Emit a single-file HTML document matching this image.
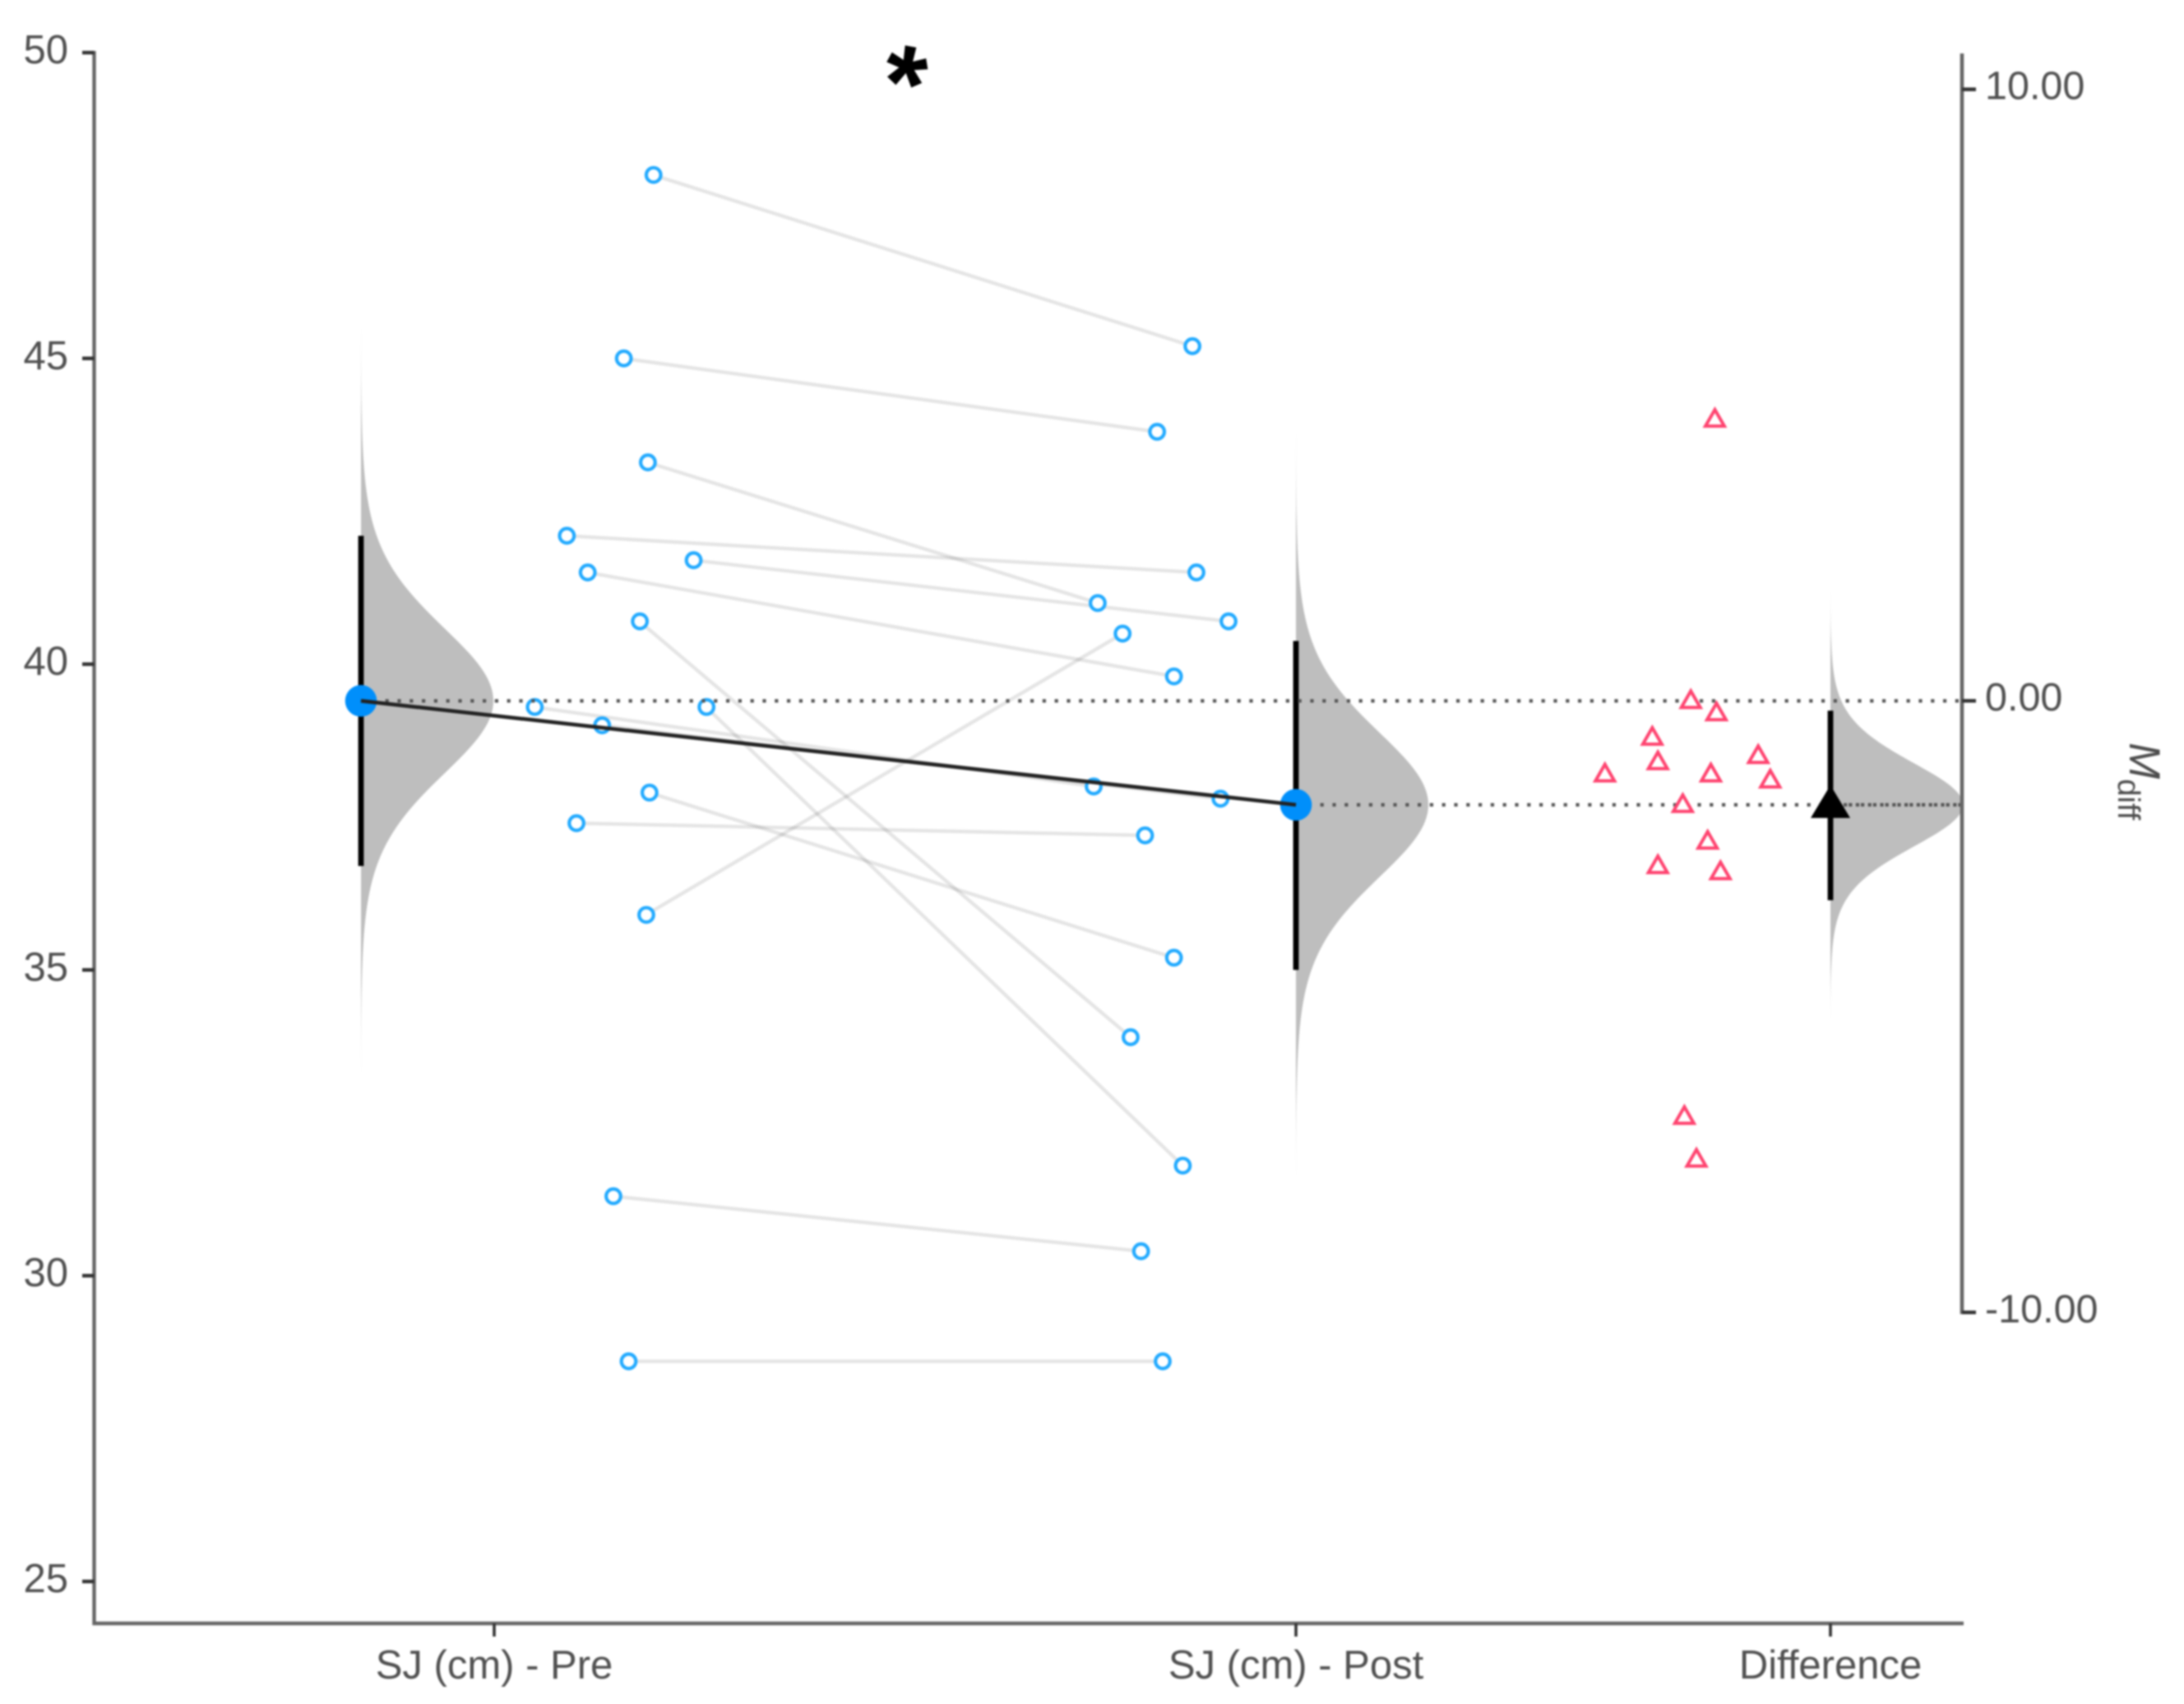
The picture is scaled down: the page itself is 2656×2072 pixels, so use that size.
<!DOCTYPE html>
<html lang="en">
<head>
<meta charset="utf-8">
<title>SJ (cm) Pre vs Post paired estimation plot</title>
<style>
  html, body { margin: 0; padding: 0; background: #fff; }
  body { width: 2656px; height: 2072px; overflow: hidden; }
  svg { display: block; filter: blur(1.1px); }
  text { font-family: "Liberation Sans", Arial, sans-serif; }
</style>
</head>
<body>
<svg id="chart" xmlns="http://www.w3.org/2000/svg" width="2656" height="2072" viewBox="0 0 2656 2072">
  <defs id="defs"></defs>
  <rect x="0" y="0" width="2656" height="2072" fill="#ffffff"></rect>
  <g id="densities"></g>
  <g id="pairs"></g>
  <g id="points"></g>
  <g id="intervals"></g>
  <g id="guides"></g>
  <g id="diffs"></g>
  <g id="means"></g>
  <g id="axes"></g>
  <text transform="translate(1104,147) rotate(10 0 -72)" text-anchor="middle" font-size="132" font-weight="700" fill="#000000">*</text>
  <text transform="translate(2590,903) rotate(90)" fill="#4d4d4d"><tspan font-size="53" font-style="italic">M</tspan><tspan font-size="38" dy="14">diff</tspan></text>
</svg>
<script>
// ---- data ----
const categories = ["SJ (cm) - Pre", "SJ (cm) - Post", "Difference"];
const categoryPositions = [0, 0.999, 1.665];
const leftTicks = [25, 30, 35, 40, 45, 50];
const rightTicks = [10, 0, -10];
const rightTickLabels = ["10.00", "0.00", "-10.00"];

const preValues = [48.0, 45.0, 43.3, 42.1, 41.7, 41.5, 40.7, 39.3, 39.3, 39.0, 37.9, 37.4, 35.9, 31.3, 28.6];
const postValues = [45.2, 43.8, 41.0, 41.5, 40.7, 39.8, 33.9, 31.8, 38.0, 37.8, 35.2, 37.2, 40.5, 30.4, 28.6];
const diffValues = [-2.8, -1.2, -2.3, -0.6, -1.0, -1.7, -6.8, -7.5, -1.3, -1.2, -2.7, -0.2, 4.6, -0.9, 0.0];

// horizontal swarm location of each subject, in category-axis units
const preSwarm = [0.198, 0.161, 0.191, 0.090, 0.248, 0.116, 0.181, 0.264, 0.050, 0.134, 0.193, 0.102, 0.189, 0.148, 0.167];
const postSwarm = [0.870, 0.826, 0.752, 0.875, 0.915, 0.847, 0.793, 0.858, 0.747, 0.905, 0.847, 0.811, 0.783, 0.806, 0.833];
const diffSwarm = [1.528, 1.384, 1.512, 1.443, 1.450, 1.481, 1.483, 1.498, 1.590, 1.516, 1.450, 1.523, 1.521, 1.575, 1.491];

const groupMeans = [39.4, 37.7];
const groupCiLow = [36.7, 35.0];
const groupCiHigh = [42.1, 40.38];
const meanDiff = -1.7;
const diffCiLow = -3.26;
const diffCiHigh = -0.16;

// ---- axis functions ----
const Y_TOP = 64, PX_PER_UNIT = 74.36, Y_TOP_VALUE = 50;
const AXIS_LEFT = 114.5, AXIS_RIGHT = 2386, AXIS_BOTTOM = 1974;
const X0 = 601, PX_PER_CAT = 976;
const HALF_EYE_SHIFT = -162;
const DENSITY_WIDTH = 161;
const T_CRIT_14 = 2.145;
const TAIL_END = 5.1, FADE_START = 3.7;

function yScale(v) { return Y_TOP + (Y_TOP_VALUE - v) * PX_PER_UNIT; }
function xScale(u) { return X0 + u * PX_PER_CAT; }
function yDiffScale(d) { return yScale(groupMeans[0] + d); }

const NS = "http://www.w3.org/2000/svg";
function mk(parentId, tag, attrs) {
  const el = document.createElementNS(NS, tag);
  for (const k in attrs) el.setAttribute(k, attrs[k]);
  document.getElementById(parentId).appendChild(el);
  return el;
}

// Student-t (df = 14) shape scaled to the fixed half-eye width
function densityPath(x0, yFn, mean, lo, hi) {
  const se = (hi - lo) / 2 / T_CRIT_14;
  const pts = [];
  for (let t = -TAIL_END; t <= TAIL_END + 0.001; t += 0.04) {
    const w = DENSITY_WIDTH * Math.pow(1 + t * t / 14, -7.5);
    pts.push((x0 + w).toFixed(2) + "," + yFn(mean + t * se).toFixed(2));
  }
  return "M" + x0 + "," + yFn(mean - TAIL_END * se).toFixed(2) + "L" + pts.join("L") + "L" + x0 + "," + yFn(mean + TAIL_END * se).toFixed(2) + "Z";
}

// vertical gradient that fades the density tails out
function densityFill(id, yFn, mean, lo, hi) {
  const se = (hi - lo) / 2 / T_CRIT_14;
  const y1 = yFn(mean + TAIL_END * se), y2 = yFn(mean - TAIL_END * se);
  const g = mk("defs", "linearGradient", { id: id, gradientUnits: "userSpaceOnUse", x1: 0, x2: 0, y1: y1, y2: y2 });
  const a = (TAIL_END - FADE_START) / (2 * TAIL_END);
  [[0, 0], [a, 1], [1 - a, 1], [1, 0]].forEach(function (s) {
    const stop = document.createElementNS(NS, "stop");
    stop.setAttribute("offset", s[0]);
    stop.setAttribute("stop-color", "#bebebe");
    stop.setAttribute("stop-opacity", s[1]);
    g.appendChild(stop);
  });
  return "url(#" + id + ")";
}

// ---- densities ----
const preCenter = xScale(categoryPositions[0]) + HALF_EYE_SHIFT;
const postCenter = xScale(categoryPositions[1]);
const diffCenter = xScale(categoryPositions[2]);

let el = mk("densities", "path", { d: densityPath(preCenter, yScale, groupMeans[0], groupCiLow[0], groupCiHigh[0]), fill: densityFill("fade-pre", yScale, groupMeans[0], groupCiLow[0], groupCiHigh[0]) });


el = mk("densities", "path", { d: densityPath(postCenter, yScale, groupMeans[1], groupCiLow[1], groupCiHigh[1]), fill: densityFill("fade-post", yScale, groupMeans[1], groupCiLow[1], groupCiHigh[1]) });


el = mk("densities", "path", { d: densityPath(diffCenter, yDiffScale, meanDiff, diffCiLow, diffCiHigh), fill: densityFill("fade-diff", yDiffScale, meanDiff, diffCiLow, diffCiHigh) });



// ---- paired lines and points ----
preValues.forEach(function (v, i) {
  const line = mk("pairs", "line", {
    x1: xScale(preSwarm[i]), y1: yScale(v),
    x2: xScale(postSwarm[i]), y2: yScale(postValues[i]),
    stroke: "#000000", "stroke-opacity": 0.1, "stroke-width": 4.4
  });
  
  
});
preValues.forEach(function (v, i) {
  const c = mk("points", "circle", { cx: xScale(preSwarm[i]) + 0.5, cy: yScale(v), r: 8.8, fill: "#ffffff", stroke: "#22aaff", "stroke-width": 4.2 });
  
  
});
postValues.forEach(function (v, i) {
  const c = mk("points", "circle", { cx: xScale(postSwarm[i]), cy: yScale(v), r: 8.8, fill: "#ffffff", stroke: "#22aaff", "stroke-width": 4.2 });
  
  
});

// ---- confidence intervals ----
el = mk("intervals", "line", { x1: preCenter, x2: preCenter, y1: yScale(groupCiHigh[0]), y2: yScale(groupCiLow[0]), stroke: "#000000", "stroke-width": 6.8 });


el = mk("intervals", "line", { x1: postCenter, x2: postCenter, y1: yScale(groupCiHigh[1]), y2: yScale(groupCiLow[1]), stroke: "#000000", "stroke-width": 6.8 });


el = mk("intervals", "line", { x1: diffCenter, x2: diffCenter, y1: yDiffScale(diffCiHigh), y2: yDiffScale(diffCiLow), stroke: "#000000", "stroke-width": 6.8 });



// ---- dotted guides ----
const dotStyle = { stroke: "#555555", "stroke-width": 4.2, "stroke-dasharray": "4.2 10.6" };
el = mk("guides", "line", Object.assign({ x1: preCenter, x2: AXIS_RIGHT, y1: yScale(groupMeans[0]), y2: yScale(groupMeans[0]) }, dotStyle));


el = mk("guides", "line", Object.assign({ x1: postCenter, x2: AXIS_RIGHT, y1: yScale(groupMeans[1]), y2: yScale(groupMeans[1]) }, dotStyle));


el = mk("guides", "line", Object.assign({ x1: diffCenter, x2: AXIS_RIGHT, y1: yDiffScale(meanDiff), y2: yDiffScale(meanDiff), "stroke-dashoffset": 7.4 }, dotStyle));



// ---- difference triangles ----
diffValues.forEach(function (d, i) {
  const x = xScale(diffSwarm[i]), y = yDiffScale(d);
  const t = mk("diffs", "polygon", {
    points: x + "," + (y - 12) + " " + (x + 11.5) + "," + (y + 8) + " " + (x - 11.5) + "," + (y + 8),
    fill: "#ffffff", stroke: "#ff4470", "stroke-width": 4, "stroke-linejoin": "miter"
  });
  
  
});

// ---- mean markers ----
el = mk("means", "circle", { cx: preCenter, cy: yScale(groupMeans[0]), r: 19.3, fill: "#008ffb" });


el = mk("means", "circle", { cx: postCenter, cy: yScale(groupMeans[1]), r: 19.3, fill: "#008ffb" });


el = mk("means", "line", { x1: preCenter, y1: yScale(groupMeans[0]), x2: postCenter, y2: yScale(groupMeans[1]), stroke: "#222222", "stroke-width": 4.6 });


const my = yDiffScale(meanDiff);
el = mk("means", "polygon", { points: diffCenter + "," + (my - 24) + " " + (diffCenter + 24) + "," + (my + 16) + " " + (diffCenter - 24) + "," + (my + 16), fill: "#000000" });



// ---- axes ----
el = mk("axes", "line", { x1: AXIS_LEFT, x2: AXIS_LEFT, y1: Y_TOP - 2, y2: AXIS_BOTTOM + 2, stroke: "#666666", "stroke-width": 4.4 });


el = mk("axes", "line", { x1: AXIS_LEFT - 2, x2: AXIS_RIGHT + 2, y1: AXIS_BOTTOM, y2: AXIS_BOTTOM, stroke: "#666666", "stroke-width": 4.6 });


el = mk("axes", "line", { x1: AXIS_RIGHT, x2: AXIS_RIGHT, y1: 65, y2: yDiffScale(rightTicks[2]) + 2, stroke: "#666666", "stroke-width": 4.6 });



leftTicks.forEach(function (v) {
  const y = yScale(v);
  const tick = mk("axes", "line", { x1: 100, x2: AXIS_LEFT, y1: y, y2: y, stroke: "#333333", "stroke-width": 4.4 });
  
  
  const label = mk("axes", "text", { x: 83, y: y + 13, "text-anchor": "end", "font-size": 49, fill: "#505050" });
  label.textContent = String(v);
  
  
});

rightTicks.forEach(function (d, i) {
  const y = yDiffScale(d);
  const tick = mk("axes", "line", { x1: AXIS_RIGHT, x2: 2403, y1: y, y2: y, stroke: "#333333", "stroke-width": 4.4 });
  
  
  const label = mk("axes", "text", { x: 2414, y: y + 12, "text-anchor": "start", "font-size": 48.5, fill: "#505050" });
  label.textContent = rightTickLabels[i];
  
  
});

categories.forEach(function (name, i) {
  const x = xScale(categoryPositions[i]);
  const tick = mk("axes", "line", { x1: x, x2: x, y1: AXIS_BOTTOM, y2: 1990, stroke: "#333333", "stroke-width": 3.6 });
  
  
  const label = mk("axes", "text", { x: x, y: 2041, "text-anchor": "middle", "font-size": 49, fill: "#505050" });
  label.textContent = name;
  
  
});
</script>
</body>
</html>
